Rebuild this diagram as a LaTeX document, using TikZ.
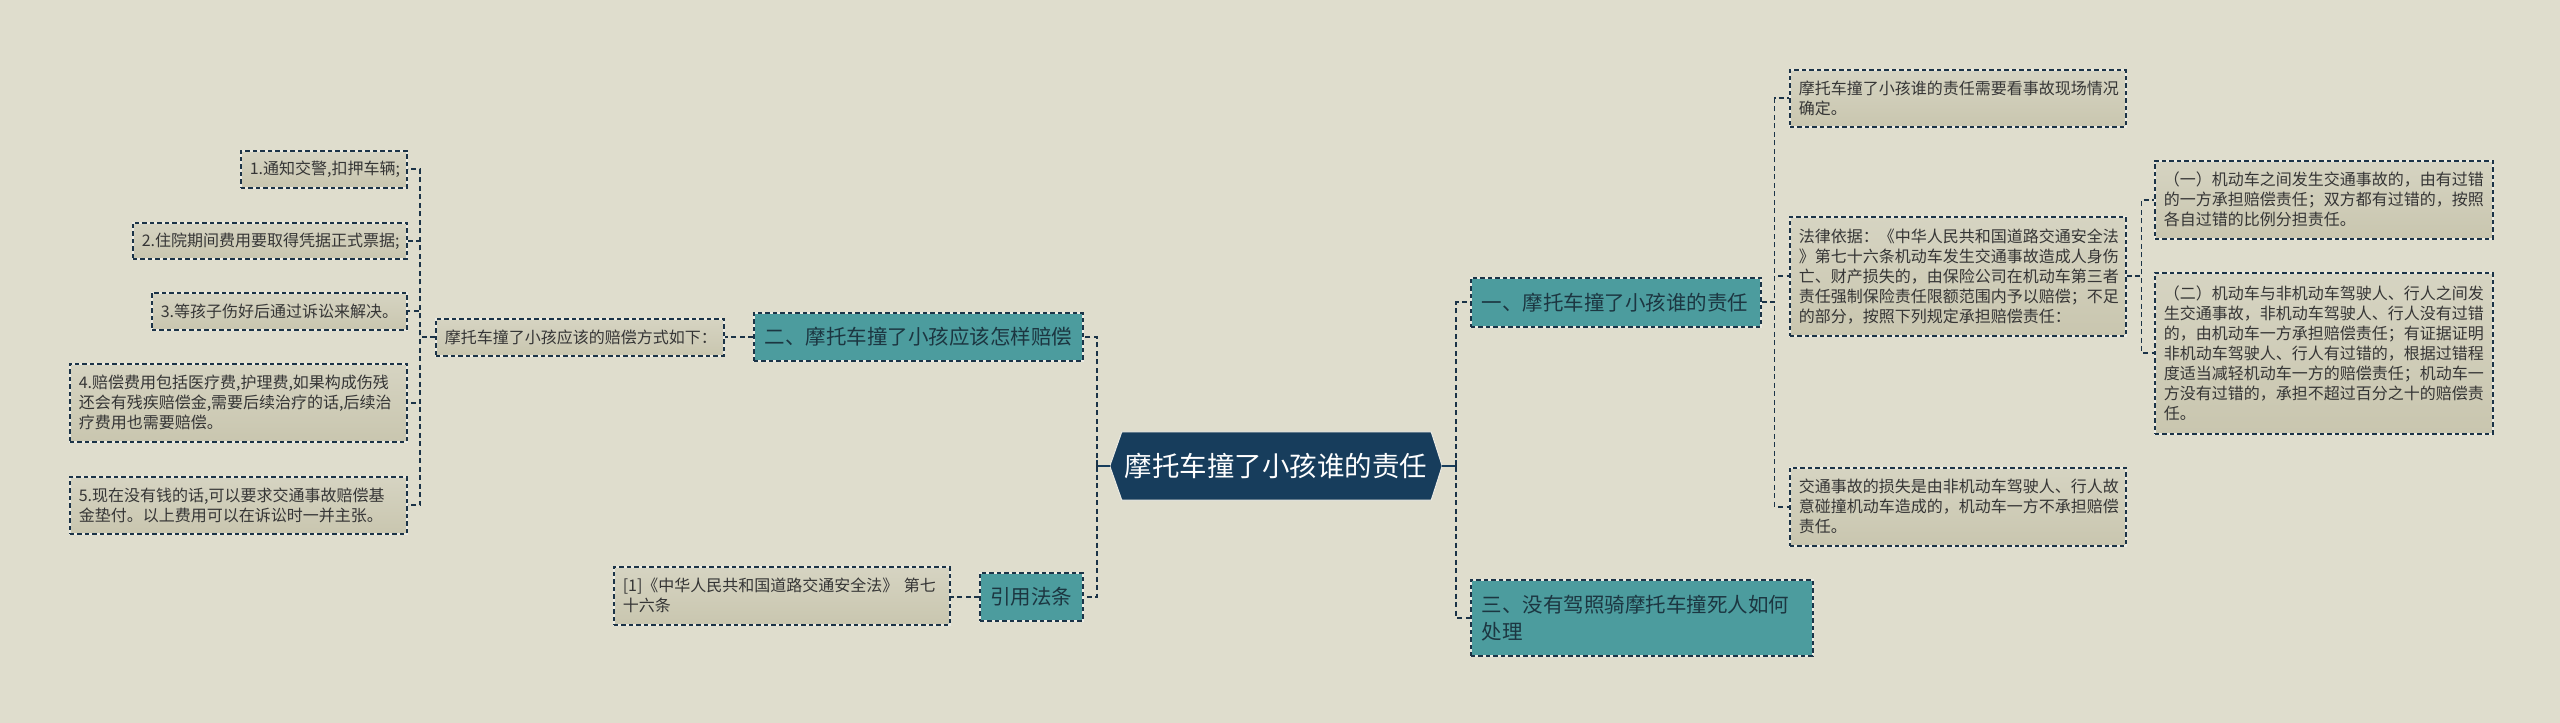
\documentclass[tikz,border=0pt]{standalone}
\usepackage{fontspec}
\setmainfont{Noto Sans CJK SC}
\usetikzlibrary{backgrounds,calc}
\definecolor{bgc}{HTML}{DFDDCD}
\definecolor{leaftop}{HTML}{D6D4C2}
\definecolor{leafbot}{HTML}{C9C6AF}
\definecolor{tealc}{HTML}{4C9C9E}
\definecolor{navyc}{HTML}{173D5C}
\definecolor{bordc}{HTML}{1B3347}
\definecolor{haloc}{HTML}{ECEBE3}
\definecolor{leaftext}{HTML}{353535}
\definecolor{tealtext}{HTML}{1C3641}
\newcommand{\leaffont}{\fontsize{16}{20}\selectfont}
\newcommand{\tealfont}{\fontsize{20.5}{27}\selectfont}
\newcommand{\hubfont}{\fontsize{27.5}{32}\selectfont}
\tikzset{
  boxborder/.style={draw=haloc, line width=1.5pt,
    postaction={draw=bordc, line width=1.5pt, dash pattern=on 4.5pt off 3pt}},
  leaf/.style={boxborder, top color=leaftop, bottom color=leafbot,
    font=\leaffont, text=leaftext, align=left, anchor=north west,
    inner xsep=9pt, inner ysep=0pt},
  tealbox/.style={boxborder, fill=tealc, font=\tealfont, text=tealtext,
    align=left, anchor=north west, inner xsep=11pt, inner ysep=0pt},
  conn/.style={draw=bordc, line width=1.8pt, dash pattern=on 5pt off 3.5pt},
  hubline/.style={draw=navyc, line width=2.5pt},
}
\begin{document}
\begin{tikzpicture}[x=1pt,y=-1pt]
\begin{scope}[on background layer]
\fill[bgc] (0,0) rectangle (2560,723);
\end{scope}
\useasboundingbox (0,0) rectangle (2560,723);

% centre
\node[font=\hubfont, text=white, inner sep=0pt, minimum width=332pt, minimum height=68pt] (hub) at (1276,466) {摩托车撞了小孩谁的责任};
\begin{scope}[on background layer]
\filldraw[fill=navyc, draw=haloc, line width=1pt]
  (hub.west) -- ([xshift=12pt]hub.north west) -- ([xshift=-11pt]hub.north east)
  -- (hub.east) -- ([xshift=-11pt]hub.south east) -- ([xshift=12pt]hub.south west) -- cycle;
\end{scope}

% left side
\node[tealbox, text width=307pt, minimum height=48pt] (er) at (753,312) {二、摩托车撞了小孩应该怎样赔偿};
\node[tealbox, align=center, inner xsep=0pt, text width=103pt, minimum height=48pt] (yy) at (979,572) {引用法条};
\node[leaf, text width=318pt, minimum height=58pt] (ref1) at (613,566) {[1]《中华人民共和国道路交通安全法》~第七\\十六条};
\node[leaf, text width=270pt, minimum height=37pt] (fs) at (435,318) {摩托车撞了小孩应该的赔偿方式如下：};
\node[leaf, text width=148pt, minimum height=37pt] (n1) at (240,150) {1.通知交警,扣押车辆;};
\node[leaf, text width=256pt, minimum height=36pt] (n2) at (132,222) {2.住院期间费用要取得凭据正式票据;};
\node[leaf, text width=237pt, minimum height=37pt] (n3) at (151,292) {3.等孩子伤好后通过诉讼来解决。};
\node[leaf, text width=319pt, minimum height=78pt] (n4) at (69,363) {4.赔偿费用包括医疗费,护理费,如果构成伤残\\还会有残疾赔偿金,需要后续治疗的话,后续治\\疗费用也需要赔偿。};
\node[leaf, text width=319pt, minimum height=57pt] (n5) at (69,476) {5.现在没有钱的话,可以要求交通事故赔偿基\\金垫付。以上费用可以在诉讼时一并主张。};

% right side
\node[tealbox, text width=268pt, minimum height=49pt] (yi) at (1470,277) {一、摩托车撞了小孩谁的责任};
\node[tealbox, text width=320pt, minimum height=76pt] (san) at (1470,579) {三、没有驾照骑摩托车撞死人如何\\处理};
\node[leaf, text width=318pt, minimum height=57pt] (qd) at (1789,69) {摩托车撞了小孩谁的责任需要看事故现场情况\\确定。};
\node[leaf, text width=318pt, minimum height=119pt] (fl) at (1789,216) {法律依据：《中华人民共和国道路交通安全法\\》第七十六条机动车发生交通事故造成人身伤\\亡、财产损失的，由保险公司在机动车第三者\\责任强制保险责任限额范围内予以赔偿；不足\\的部分，按照下列规定承担赔偿责任：};
\node[leaf, text width=318pt, minimum height=78pt] (jt) at (1789,467) {交通事故的损失是由非机动车驾驶人、行人故\\意碰撞机动车造成的，机动车一方不承担赔偿\\责任。};
\node[leaf, text width=320pt, minimum height=78pt] (p1) at (2154,160) {（一）机动车之间发生交通事故的，由有过错\\的一方承担赔偿责任；双方都有过错的，按照\\各自过错的比例分担责任。};
\node[leaf, text width=320pt, minimum height=161pt] (p2) at (2154,272) {（二）机动车与非机动车驾驶人、行人之间发\\生交通事故，非机动车驾驶人、行人没有过错\\的，由机动车一方承担赔偿责任；有证据证明\\非机动车驾驶人、行人有过错的，根据过错程\\度适当减轻机动车一方的赔偿责任；机动车一\\方没有过错的，承担不超过百分之十的赔偿责\\任。};

% hub connectors
\coordinate (hl) at (1097,466);
\coordinate (hr) at (1456,466);
\draw[hubline] (hub.west) -- (hl);
\draw[hubline] ([yshift=6pt]hl) -- ([yshift=-6pt]hl);
\draw[hubline] (hub.east) -- (hr);
\draw[hubline] ([yshift=6pt]hr) -- ([yshift=-6pt]hr);
\draw[conn] (hl) |- (er.east);
\draw[conn] (hl) |- (yy.east);
\draw[conn] (hr) |- (yi.west);
\draw[conn] (hr) |- (san.west);

% left branches
\draw[conn] (er.west) -- (er.west -| fs.east);
\draw[conn] (yy.west) -- (yy.west -| ref1.east);
\foreach \c in {n1,n2,n3,n4,n5}{
  \draw[conn] (fs.west) -- ++(-15,0) |- (\c.east);
}

% right branches
\foreach \c in {qd,fl,jt}{
  \draw[conn] (yi.east) -- ++(13,0) |- (\c.west);
}
\foreach \c in {p1,p2}{
  \draw[conn] (fl.east) -- ++(15,0) |- (\c.west);
}
\end{tikzpicture}
\end{document}
